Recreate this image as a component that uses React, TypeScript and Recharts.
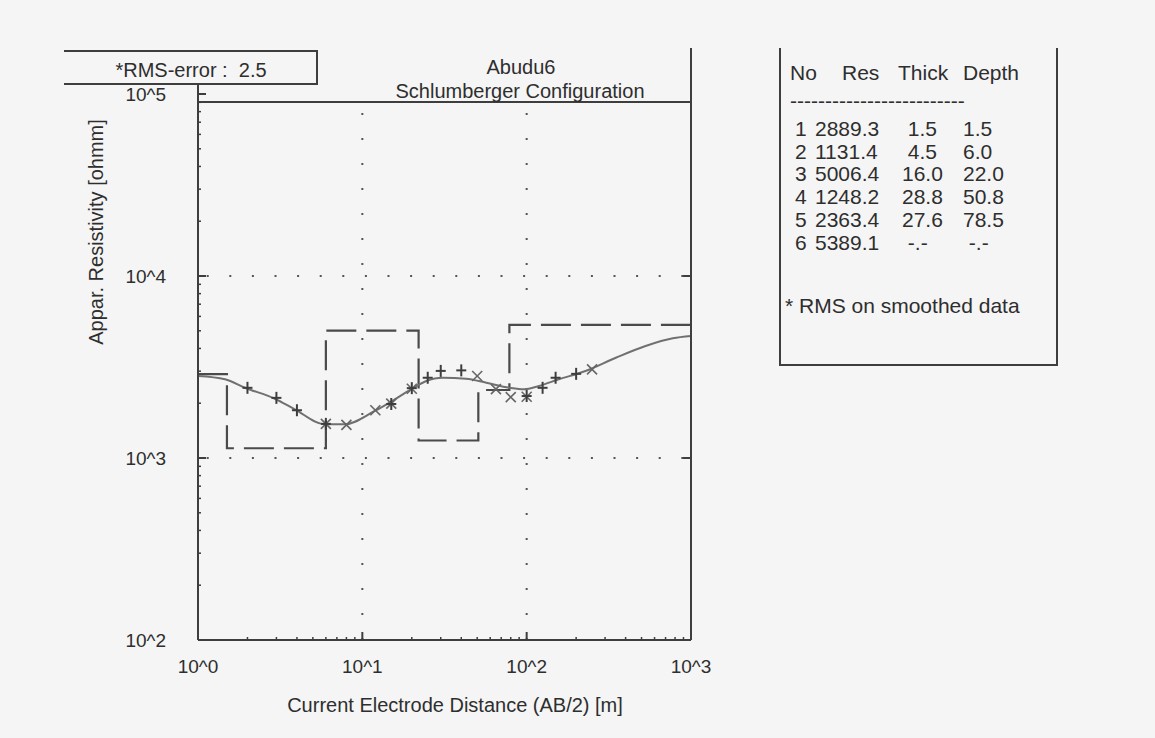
import React from 'react';
import { ComposedChart, Line, Scatter, XAxis, YAxis, ReferenceLine } from 'recharts';

const FONT = "'Liberation Sans', Arial, Helvetica, sans-serif";
const INK = '#2e2e2e';
const LINE = '#3e3e3e';
const BG = '#f5f5f5';

// ---- layered model table ----
const layerNo = ['1', '2', '3', '4', '5', '6'];
const layerRes = [2889.3, 1131.4, 5006.4, 1248.2, 2363.4, 5389.1];
const layerResText = ['2889.3', '1131.4', '5006.4', '1248.2', '2363.4', '5389.1'];
const layerThick = [' 1.5', ' 4.5', '16.0', '28.8', '27.6', ' -.-'];
const layerDepth = ['1.5', '6.0', '22.0', '50.8', '78.5', ' -.-'];
const layerBottoms = [1.5, 6.0, 22.0, 50.8, 78.5];

// ---- observed field data (+) ----
const obsX = [2, 3, 4, 6, 15, 20, 25, 30, 40, 100, 125, 150, 200];
const obsY = [2430, 2140, 1830, 1540, 1980, 2420, 2760, 3010, 3030, 2190, 2430, 2760, 2900];

// ---- smoothed data (x) ----
const smX = [6, 8, 12, 15, 20, 50, 65, 80, 100, 250];
const smY = [1540, 1520, 1830, 1990, 2400, 2820, 2390, 2160, 2170, 3070];

// ---- calculated model curve ----
const curveX = [1, 1.46, 1.93, 2.93, 3.88, 5.89, 7.8, 11.9, 14.6, 19.8, 24.5, 30.8, 42.8, 56.8, 78.4, 96.5, 118.8, 157, 228, 349, 529, 775, 1000];
const curveY = [2821, 2706, 2433, 2117, 1852, 1532, 1532, 1813, 2013, 2385, 2649, 2762, 2727, 2592, 2434, 2385, 2487, 2706, 3006, 3556, 4125, 4548, 4680];

// ---- axes ----
const xTicks = [1, 10, 100, 1000];
const xTickLabels = ['10^0', '10^1', '10^2', '10^3'];
const xMinor = [2, 3, 4, 5, 6, 7, 8, 9, 20, 30, 40, 50, 60, 70, 80, 90, 200, 300, 400, 500, 600, 700, 800, 900];
const yTicks = [100, 1000, 10000, 100000];
const yTickLabels = ['10^2', '10^3', '10^4', '10^5'];
const yMinor = [200, 300, 400, 500, 600, 700, 800, 900, 2000, 3000, 4000, 5000, 6000, 7000, 8000, 9000, 20000, 30000, 40000, 50000, 60000, 70000, 80000, 90000];
const frameTop = 90350;

const obsData = obsX.map((x, i) => ({ x, y: obsY[i] }));
const smData = smX.map((x, i) => ({ x, y: smY[i] }));
const curveData = curveX.map((x, i) => ({ x, y: curveY[i] }));
const modelData = [
  { x: 1, y: layerRes[0] },
  ...layerBottoms.map((d, i) => ({ x: d, y: layerRes[i + 1] })),
  { x: 1000, y: layerRes[layerRes.length - 1] },
];

const PlusShape = (p: any) => {
  const { cx, cy } = p;
  if (cx == null || cy == null) return <g />;
  return (
    <g>
      <line x1={cx - 5} y1={cy} x2={cx + 5} y2={cy} stroke={LINE} strokeWidth={2} />
      <line x1={cx} y1={cy - 6} x2={cx} y2={cy + 6} stroke={LINE} strokeWidth={2} />
    </g>
  );
};
const CrossShape = (p: any) => {
  const { cx, cy } = p;
  if (cx == null || cy == null) return <g />;
  return (
    <g>
      <line x1={cx - 5} y1={cy - 5} x2={cx + 5} y2={cy + 5} stroke="#666" strokeWidth={1.6} />
      <line x1={cx - 5} y1={cy + 5} x2={cx + 5} y2={cy - 5} stroke="#666" strokeWidth={1.6} />
    </g>
  );
};

const txt = (s: React.CSSProperties): React.CSSProperties => ({
  position: 'absolute',
  fontFamily: FONT,
  color: INK,
  whiteSpace: 'pre',
  lineHeight: 1,
  ...s,
});

const hl = (left: number, top: number, width: number): React.CSSProperties => ({
  position: 'absolute', left, top, width, height: 2, background: LINE,
});
const vl = (left: number, top: number, height: number): React.CSSProperties => ({
  position: 'absolute', left, top, width: 2, height, background: LINE,
});

const rowY = [128, 151, 173, 196, 219, 242];

export default function App() {
  const axisStroke = { stroke: LINE, strokeWidth: 2 };
  return (
    <div style={{ position: 'absolute', left: 0, top: 0, width: 1155, height: 738, background: BG, overflow: 'hidden' }}>
      <ComposedChart
        width={1155}
        height={738}
        margin={{ top: 94, right: 463, bottom: 96, left: 196 }}
        style={{ position: 'absolute', left: 0, top: 0 }}
      >
        <XAxis
          xAxisId={0}
          dataKey="x"
          type="number"
          scale="log"
          domain={[1, 1000]}
          ticks={xTicks}
          interval={0}
          height={1}
          tickSize={-8}
          tickMargin={28}
          tickFormatter={(v: number) => xTickLabels[xTicks.indexOf(v)] ?? ''}
          tick={{ fill: INK, fontSize: 19, fontFamily: FONT }}
          axisLine={axisStroke}
          tickLine={axisStroke}
          allowDataOverflow
        />
        <XAxis
          xAxisId="xm"
          dataKey="x"
          type="number"
          scale="log"
          domain={[1, 1000]}
          ticks={xMinor}
          interval={0}
          height={1}
          tickSize={-4}
          tickFormatter={() => ''}
          axisLine={false}
          tickLine={{ stroke: LINE, strokeWidth: 1.5 }}
          allowDataOverflow
        />
        <YAxis
          yAxisId={0}
          type="number"
          scale="log"
          domain={[100, 100000]}
          ticks={yTicks}
          interval={0}
          width={1}
          tickSize={-8}
          tickMargin={40}
          tickFormatter={(v: number) => yTickLabels[yTicks.indexOf(v)] ?? ''}
          tick={{ fill: INK, fontSize: 19, fontFamily: FONT }}
          axisLine={axisStroke}
          tickLine={axisStroke}
          allowDataOverflow
        />
        <YAxis
          yAxisId="ym"
          type="number"
          scale="log"
          domain={[100, 100000]}
          ticks={yMinor}
          interval={0}
          width={1}
          tickSize={-4}
          tickFormatter={() => ''}
          axisLine={false}
          tickLine={{ stroke: LINE, strokeWidth: 1.5 }}
          allowDataOverflow
        />
        <YAxis
          yAxisId="yr"
          orientation="right"
          type="number"
          scale="log"
          domain={[100, 100000]}
          ticks={[1000, 10000]}
          interval={0}
          width={1}
          tickSize={-8}
          tickFormatter={() => ''}
          axisLine={axisStroke}
          tickLine={axisStroke}
          allowDataOverflow
        />

        {/* dotted grid */}
        <ReferenceLine y={1000} stroke="#555" strokeWidth={2} strokeDasharray="2 20.6" strokeDashoffset={-8.7} />
        <ReferenceLine y={10000} stroke="#555" strokeWidth={2} strokeDasharray="2 20.6" strokeDashoffset={-8.7} />
        <ReferenceLine segment={[{ x: 10, y: 100 }, { x: 10, y: frameTop }]} stroke="#555" strokeWidth={2} strokeDasharray="2 23" />
        <ReferenceLine segment={[{ x: 100, y: 100 }, { x: 100, y: frameTop }]} stroke="#555" strokeWidth={2} strokeDasharray="2 23" />
        {/* top frame */}
        <ReferenceLine y={frameTop} stroke={LINE} strokeWidth={2} />

        <Line
          data={modelData}
          dataKey="y"
          type="stepAfter"
          stroke="#4a4a4a"
          strokeWidth={2.2}
          strokeDasharray="30 10"
          dot={false}
          isAnimationActive={false}
        />
        <Line
          data={curveData}
          dataKey="y"
          type="monotone"
          stroke="#707070"
          strokeWidth={2}
          dot={false}
          isAnimationActive={false}
        />
        <Scatter data={smData} dataKey="y" shape={CrossShape} isAnimationActive={false} />
        <Scatter data={obsData} dataKey="y" shape={PlusShape} isAnimationActive={false} />
      </ComposedChart>

      {/* RMS box */}
      <div style={hl(64, 50, 254)} />
      <div style={hl(64, 83, 254)} />
      <div style={vl(316, 50, 35)} />
      <div style={vl(197, 83, 12)} />
      <div style={txt({ left: 191, top: 70, fontSize: 20, transform: 'translate(-50%,-50%)' })}>{'*RMS-error :  2.5'}</div>

      {/* title */}
      <div style={vl(690, 48, 47)} />
      <div style={txt({ left: 521, top: 67, fontSize: 20, transform: 'translate(-50%,-50%)' })}>Abudu6</div>
      <div style={txt({ left: 520, top: 91, fontSize: 20, transform: 'translate(-50%,-50%)' })}>Schlumberger Configuration</div>

      {/* axis titles */}
      <div style={txt({ left: 96, top: 232, fontSize: 20, transform: 'translate(-50%,-50%) rotate(-90deg)' })}>Appar. Resistivity [ohmm]</div>
      <div style={txt({ left: 455, top: 705, fontSize: 20, transform: 'translate(-50%,-50%)' })}>Current Electrode Distance (AB/2) [m]</div>

      {/* table box */}
      <div style={vl(779, 48, 318)} />
      <div style={hl(779, 364, 279)} />
      <div style={vl(1056, 48, 318)} />
      <div style={txt({ left: 790, top: 72, fontSize: 21, transform: 'translateY(-50%)' })}>No</div>
      <div style={txt({ left: 842, top: 72, fontSize: 21, transform: 'translateY(-50%)' })}>Res</div>
      <div style={txt({ left: 898, top: 72, fontSize: 21, transform: 'translateY(-50%)' })}>Thick</div>
      <div style={txt({ left: 963, top: 72, fontSize: 21, transform: 'translateY(-50%)' })}>Depth</div>
      <div style={txt({ left: 790, top: 100, fontSize: 21, transform: 'translateY(-50%)' })}>{'-------------------------'}</div>
      {layerNo.map((n, i) => (
        <React.Fragment key={n}>
          <div style={txt({ left: 795, top: rowY[i], fontSize: 21, transform: 'translateY(-50%)' })}>{n}</div>
          <div style={txt({ left: 815, top: rowY[i], fontSize: 21, transform: 'translateY(-50%)' })}>{layerResText[i]}</div>
          <div style={txt({ left: 902, top: rowY[i], fontSize: 21, transform: 'translateY(-50%)' })}>{layerThick[i]}</div>
          <div style={txt({ left: 963, top: rowY[i], fontSize: 21, transform: 'translateY(-50%)' })}>{layerDepth[i]}</div>
        </React.Fragment>
      ))}
      <div style={txt({ left: 785, top: 305, fontSize: 21, transform: 'translateY(-50%)' })}>* RMS on smoothed data</div>
    </div>
  );
}
